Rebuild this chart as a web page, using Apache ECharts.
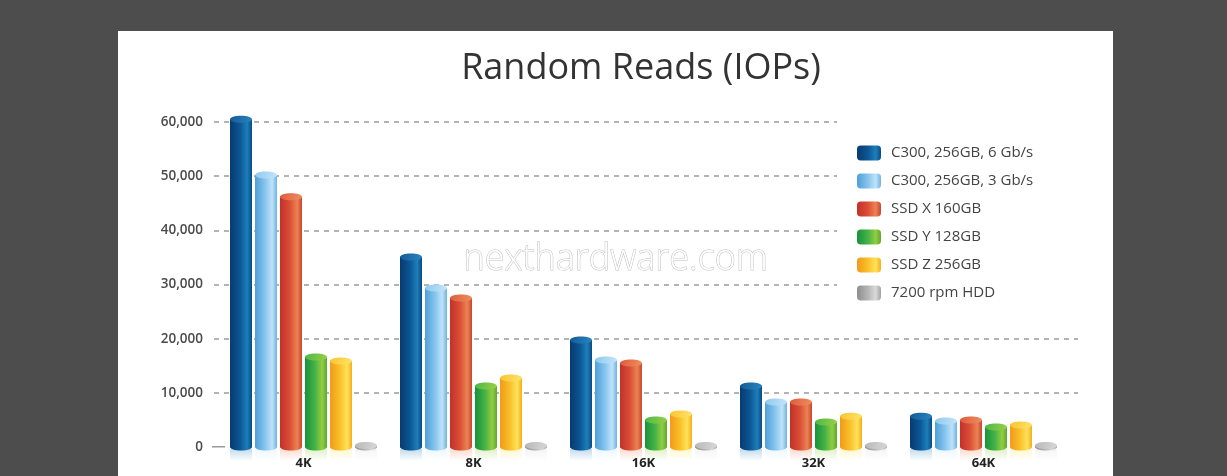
<!DOCTYPE html>
<html>
<head>
<meta charset="utf-8">
<script src="https://cdn.jsdelivr.net/npm/echarts@6/dist/echarts.min.js"></script>
<style>
html,body{margin:0;padding:0;background:#4d4d4d;}
#c{width:1227px;height:476px;}
</style>
</head>
<body>
<div id="c"></div>
<script>
// ---- data ----
var categories = ['4K', '8K', '16K', '32K', '64K'];
var seriesNames = ['C300, 256GB, 6 Gb/s', 'C300, 256GB, 3 Gb/s', 'SSD X 160GB', 'SSD Y 128GB', 'SSD Z 256GB', '7200 rpm HDD'];
var c300_6 = [60500, 35100, 19750, 11260, 5700];
var c300_3 = [50200, 29350, 16060, 8300, 4800];
var ssdX = [46200, 27500, 15500, 8300, 5000];
var ssdY = [16600, 11260, 4980, 4600, 3700];
var ssdZ = [15900, 12740, 6100, 5700, 4060];
var hdd = [300, 300, 300, 300, 300];
var yTicks = [0, 10000, 20000, 30000, 40000, 50000, 60000];

var allValues = [c300_6, c300_3, ssdX, ssdY, ssdZ, hdd];

// ---- styles ----
var palettes = [
  {body: ['#083a70', '#0c5693', '#1c7fba', '#0a4a82'], cap: ['#145a95', '#2a86c0']},
  {body: ['#4f9fd6', '#85c4ee', '#bfe3f9', '#6fb3e1'], cap: ['#8cc8ee', '#c6e6fa']},
  {body: ['#c2302a', '#db4e36', '#ea8453', '#c9452f'], cap: ['#dd5a3c', '#ef9060']},
  {body: ['#18923a', '#44b248', '#93cd3e', '#5aa934'], cap: ['#4cb648', '#9ad246']},
  {body: ['#f19a18', '#f9c02a', '#ffe259', '#f2ae1e'], cap: ['#fbc22e', '#ffe46a']},
  {body: ['#8e8e8e', '#b4b4b4', '#dadada', '#a2a2a2'], cap: ['#b8b8b8', '#d8d8d8']}
];

function grad(stops) {
  return new echarts.graphic.LinearGradient(0, 0, 1, 0, [
    {offset: 0, color: stops[0]},
    {offset: 0.45, color: stops[1]},
    {offset: 0.78, color: stops[2]},
    {offset: 1, color: stops[3]}
  ]);
}

function makeRender(sIdx) {
  var p = palettes[sIdx];
  return function (params, api) {
    var cat = api.value(0), v = api.value(1);
    var base = api.coord([cat, 0]);
    var top = api.coord([cat, v]);
    var band = api.size([1, 0])[0];
    var bw = band * 22 / 170;
    var step = band * 25 / 170;
    var cx = base[0] + (sIdx - 2.5) * step;
    var x = cx - bw / 2;
    var ry = 3.5;
    var h = base[1] - top[1];
    return {
      type: 'group',
      children: [
        {type: 'rect', shape: {x: x, y: base[1] + 2, width: bw, height: 12},
          style: {fill: new echarts.graphic.LinearGradient(0, 0, 0, 1, [
            {offset: 0, color: echarts.color.modifyAlpha(p.body[2], 0.28)},
            {offset: 1, color: echarts.color.modifyAlpha(p.body[2], 0)}
          ])}},
        {type: 'ellipse', shape: {cx: cx, cy: base[1], rx: bw / 2, ry: ry},
          style: {fill: grad(p.body)}},
        {type: 'rect', shape: {x: x, y: top[1], width: bw, height: h},
          style: {fill: grad(p.body)}},
        {type: 'ellipse', shape: {cx: cx, cy: top[1], rx: bw / 2, ry: ry},
          style: {fill: new echarts.graphic.LinearGradient(0, 0, 1, 1, [
            {offset: 0, color: p.cap[0]},
            {offset: 1, color: p.cap[1]}
          ])}}
      ]
    };
  };
}

var series = allValues.map(function (vals, i) {
  return {
    type: 'custom',
    name: seriesNames[i],
    xAxisIndex: 1,
    yAxisIndex: 1,
    renderItem: makeRender(i),
    itemStyle: {color: grad(palettes[i].body)},
    encode: {x: 0, y: 1},
    data: vals.map(function (v, j) { return [j, v]; }),
    clip: false,
    z: 3
  };
});

var chart = echarts.init(document.getElementById('c'), null, {renderer: 'canvas'});
chart.setOption({
  backgroundColor: '#4d4d4d',
  animation: false,
  graphic: [
    {type: 'rect', z: -10, shape: {x: 118, y: 31, width: 995, height: 460}, style: {fill: '#ffffff'}},
    {type: 'rect', z: -9, shape: {x: 212, y: 446, width: 13, height: 1.5}, style: {fill: '#9a9a9a'}},
    {type: 'text', z: 10, left: 463, top: 241,
      style: {text: 'nexthardware.com', font: '300 36px "Open Sans"', fill: '#ffffff', stroke: '#bdbdbd', lineWidth: 1}}
  ],
  title: {
    text: 'Random Reads (IOPs)',
    left: 636, top: 46, textAlign: 'center',
    textStyle: {fontFamily: 'Open Sans', fontSize: 36, fontWeight: 'normal', color: '#333333'}
  },
  legend: {
    orient: 'vertical',
    left: 837, top: 117,
    padding: [28, 70, 10, 20],
    backgroundColor: '#ffffff',
    itemWidth: 24, itemHeight: 15, itemGap: 12,
    icon: 'roundRect',
    data: seriesNames,
    textStyle: {fontFamily: 'Open Sans', fontSize: 15, lineHeight: 16, color: '#444', padding: [0, 0, 0, 5]}
  },
  grid: [
    {left: 214, top: 122, width: 864, height: 325},
    {left: 218.5, top: 122, width: 850, height: 325}
  ],
  xAxis: [
    {type: 'category', gridIndex: 0, data: categories, show: false},
    {type: 'category', gridIndex: 1, data: categories,
      axisLine: {show: false}, axisTick: {show: false},
      axisLabel: {margin: 10, fontFamily: 'Open Sans', fontSize: 13, fontWeight: 'bold', color: '#222'}}
  ],
  yAxis: [
    {type: 'value', gridIndex: 0, min: yTicks[0], max: yTicks[yTicks.length - 1], interval: 10000,
      axisLine: {show: false}, axisTick: {show: false},
      axisLabel: {margin: 11, fontFamily: 'Open Sans', fontSize: 13.5, fontWeight: 600, color: '#4a4a4a',
        formatter: function (v) { return v.toLocaleString('en-US'); }},
      splitLine: {showMinLine: false, lineStyle: {color: '#9a9a9a', type: [5, 5], width: 1.5}}},
    {type: 'value', gridIndex: 1, min: yTicks[0], max: yTicks[yTicks.length - 1], interval: 10000, show: false,
      splitLine: {show: false}}
  ],
  series: series
});
</script>
</body>
</html>
